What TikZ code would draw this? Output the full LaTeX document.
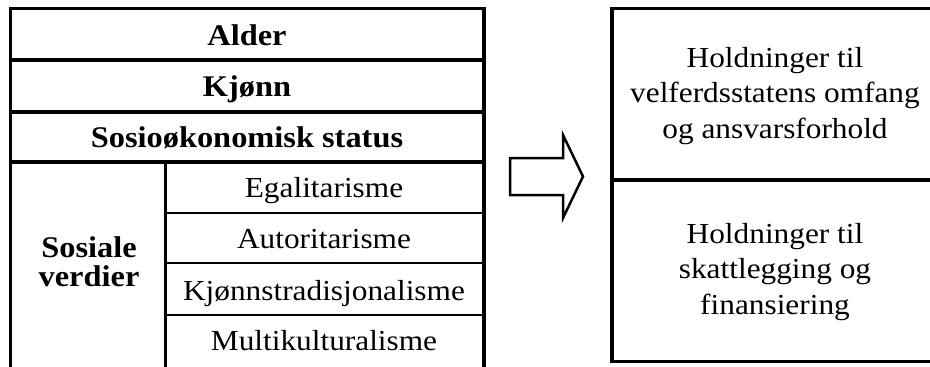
\documentclass[tikz,border=0pt]{standalone}
\usepackage{fontspec}
\setmainfont{Liberation Serif}[FakeStretch=1.08]

\begin{document}
\begin{tikzpicture}
  [x=1pt,y=-1pt,every node/.style={inner sep=0pt,anchor=base,align=center,font=\fontsize{29}{35.5}\selectfont},
   head/.style={font=\fontsize{30}{29}\selectfont\bfseries},
   thickline/.style={line width=3.8pt},
   midline/.style={line width=3pt},
   thinline/.style={line width=2.5pt}]
  \useasboundingbox (0,0) rectangle (930,367);

  % left table
  \node[head] (alder) at (247,45) {Alder};
  \node[head] (kjonn) at (247,96) {Kjønn};
  \node[head] (sosio) at (247,147.5) {Sosioøkonomisk status};
  \node[head] (verdier) at (89,286) {Sosiale\\verdier};
  \node (egal) at (324,197.5) {Egalitarisme};
  \node (autor) at (324,248) {Autoritarisme};
  \node (kjtrad) at (324,300) {Kjønnstradisjonalisme};
  \node (multi) at (324,350) {Multikulturalisme};

  \draw[thickline] (10.5,372) -- (10.5,6.6) (484,372) -- (484,6.6);
  \draw[thickline] (10.5,8.5) -- (484,8.5);
  \draw[thickline] (10.5,60) -- (484,60);
  \draw[thickline] (10.5,112) -- (484,112);
  \draw[thickline] (10.5,162) -- (484,162);
  \draw[midline] (165,162) -- (165,372);
  \draw[thinline] (165,213) -- (484,213);
  \draw[thinline] (165,263) -- (484,263);
  \draw[thinline] (165,315) -- (484,315);

  % arrow
  \draw[line width=2.5pt,line join=miter]
    (510,158) -- (563,158) -- (563,135) -- (583,176.5) -- (563,218) -- (563,195) -- (510,195) -- cycle;

  % right box
  \node (omfang) at (775,138) {Holdninger til\\velferdsstatens omfang\\og ansvarsforhold};
  \node (skatt) at (775,314) {Holdninger til\\skattlegging og\\finansiering};

  \draw[thickline] (612,363.4) -- (612,6.6);
  \draw[thickline] (612,8.5) -- (940,8.5);
  \draw[thickline] (612,180) -- (940,180);
  \draw[thickline] (612,361.5) -- (940,361.5);
\end{tikzpicture}
\end{document}
